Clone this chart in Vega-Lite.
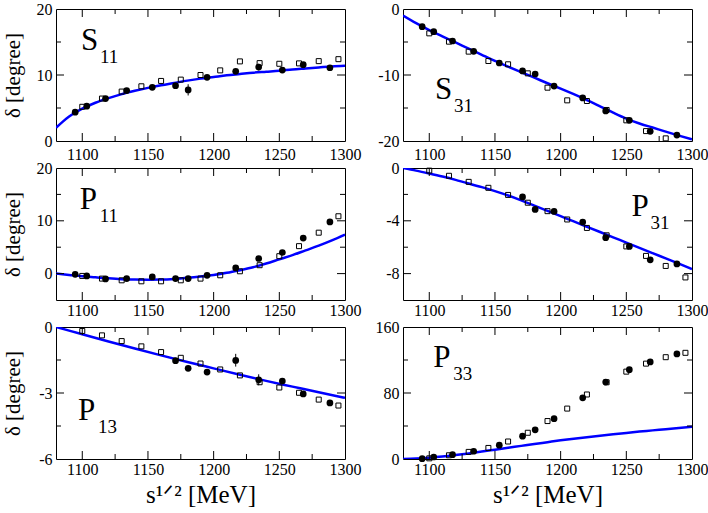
{
  "$schema": "https://vega.github.io/schema/vega-lite/v6.json",
  "padding": {"left": 1, "top": 0, "right": 0, "bottom": 0},
  "bounds": "flush",
  "columns": 2,
  "spacing": {"row": 27, "column": 58},
  "config": {
    "font": "Liberation Serif",
    "view": {"stroke": "black", "strokeWidth": 1},
    "axis": {"domain": false, "ticks": false, "grid": false, "labelFont": "Liberation Serif", "titleFont": "Liberation Serif", "labelFontSize": 16, "titleFontSize": 21, "labelColor": "black", "titleColor": "black", "titleFontWeight": "normal"},
    "tick": {"thickness": 1, "color": "black", "opacity": 1}
  },
  "datasets": {
    "one": [{"k": 1}],
    "xt": [{"v": 1100, "major": 1}, {"v": 1150, "major": 1}, {"v": 1200, "major": 1}, {"v": 1250, "major": 1}, {"v": 1125, "major": 0}, {"v": 1175, "major": 0}, {"v": 1225, "major": 0}, {"v": 1275, "major": 0}],
    "yt": [
      {"wave": "S11", "v": 10, "major": 1}, {"wave": "S11", "v": 5, "major": 0}, {"wave": "S11", "v": 15, "major": 0},
      {"wave": "S31", "v": -10, "major": 1}, {"wave": "S31", "v": -5, "major": 0}, {"wave": "S31", "v": -15, "major": 0},
      {"wave": "P11", "v": 0, "major": 1}, {"wave": "P11", "v": 10, "major": 1}, {"wave": "P11", "v": 5, "major": 0}, {"wave": "P11", "v": 15, "major": 0},
      {"wave": "P31", "v": -4, "major": 1}, {"wave": "P31", "v": -8, "major": 1}, {"wave": "P31", "v": -2, "major": 0}, {"wave": "P31", "v": -6, "major": 0},
      {"wave": "P13", "v": -3, "major": 1}, {"wave": "P13", "v": -1.5, "major": 0}, {"wave": "P13", "v": -4.5, "major": 0},
      {"wave": "P33", "v": 80, "major": 1}, {"wave": "P33", "v": 40, "major": 0}, {"wave": "P33", "v": 120, "major": 0}
    ],
    "pts": [
      {"wave":"S11","kind":"c","s":1094.6,"delta":4.37},{"wave":"S11","kind":"c","s":1103.4,"delta":5.28},{"wave":"S11","kind":"c","s":1117.7,"delta":6.43},{"wave":"S11","kind":"c","s":1133.8,"delta":7.64},{"wave":"S11","kind":"c","s":1153.3,"delta":8.14},{"wave":"S11","kind":"c","s":1171,"delta":8.39},{"wave":"S11","kind":"c","s":1180.6,"delta":7.74},{"wave":"S11","kind":"c","s":1195,"delta":9.65},{"wave":"S11","kind":"c","s":1216.8,"delta":10.55},{"wave":"S11","kind":"c","s":1234.3,"delta":11.2},{"wave":"S11","kind":"c","s":1252.3,"delta":10.75},{"wave":"S11","kind":"c","s":1268.2,"delta":11.56},{"wave":"S11","kind":"c","s":1288.5,"delta":11.1},
      {"wave":"S11","kind":"q","s":1100,"delta":5.18},{"wave":"S11","kind":"q","s":1115,"delta":6.43},{"wave":"S11","kind":"q","s":1130,"delta":7.49},{"wave":"S11","kind":"q","s":1145,"delta":8.29},{"wave":"S11","kind":"q","s":1160,"delta":9.1},{"wave":"S11","kind":"q","s":1175,"delta":9.3},{"wave":"S11","kind":"q","s":1190,"delta":10.0},{"wave":"S11","kind":"q","s":1205,"delta":10.7},{"wave":"S11","kind":"q","s":1220,"delta":12.06},{"wave":"S11","kind":"q","s":1235,"delta":11.8},{"wave":"S11","kind":"q","s":1250,"delta":11.7},{"wave":"S11","kind":"q","s":1265,"delta":11.76},{"wave":"S11","kind":"q","s":1280,"delta":12.1},{"wave":"S11","kind":"q","s":1295,"delta":12.4},
      {"wave":"S31","kind":"c","s":1094.6,"delta":-2.68},{"wave":"S31","kind":"c","s":1103.4,"delta":-3.43},{"wave":"S31","kind":"c","s":1117.7,"delta":-4.85},{"wave":"S31","kind":"c","s":1133.8,"delta":-6.41},{"wave":"S31","kind":"c","s":1153.3,"delta":-8.18},{"wave":"S31","kind":"c","s":1171,"delta":-9.39},{"wave":"S31","kind":"c","s":1180.6,"delta":-9.85},{"wave":"S31","kind":"c","s":1195,"delta":-11.67},{"wave":"S31","kind":"c","s":1216.8,"delta":-13.48},{"wave":"S31","kind":"c","s":1234.3,"delta":-15.45},{"wave":"S31","kind":"c","s":1252.3,"delta":-16.87},{"wave":"S31","kind":"c","s":1268.2,"delta":-18.54},{"wave":"S31","kind":"c","s":1288.5,"delta":-19.1},
      {"wave":"S31","kind":"q","s":1100,"delta":-3.69},{"wave":"S31","kind":"q","s":1115,"delta":-4.95},{"wave":"S31","kind":"q","s":1130,"delta":-6.46},{"wave":"S31","kind":"q","s":1145,"delta":-7.88},{"wave":"S31","kind":"q","s":1160,"delta":-8.38},{"wave":"S31","kind":"q","s":1175,"delta":-9.75},{"wave":"S31","kind":"q","s":1190,"delta":-11.92},{"wave":"S31","kind":"q","s":1205,"delta":-13.84},{"wave":"S31","kind":"q","s":1220,"delta":-13.94},{"wave":"S31","kind":"q","s":1235,"delta":-15.3},{"wave":"S31","kind":"q","s":1250,"delta":-16.87},{"wave":"S31","kind":"q","s":1265,"delta":-18.5},{"wave":"S31","kind":"q","s":1280,"delta":-19.6},
      {"wave":"P11","kind":"c","s":1094.6,"delta":-0.13},{"wave":"P11","kind":"c","s":1103.4,"delta":-0.44},{"wave":"P11","kind":"c","s":1117.7,"delta":-1.0},{"wave":"P11","kind":"c","s":1133.8,"delta":-0.95},{"wave":"P11","kind":"c","s":1153.3,"delta":-0.63},{"wave":"P11","kind":"c","s":1171,"delta":-0.95},{"wave":"P11","kind":"c","s":1180.6,"delta":-0.95},{"wave":"P11","kind":"c","s":1195,"delta":-0.32},{"wave":"P11","kind":"c","s":1216.8,"delta":1.08},{"wave":"P11","kind":"c","s":1234.3,"delta":2.86},{"wave":"P11","kind":"c","s":1252.3,"delta":4.0},{"wave":"P11","kind":"c","s":1268.2,"delta":6.73},{"wave":"P11","kind":"c","s":1288.5,"delta":9.78},
      {"wave":"P11","kind":"q","s":1100,"delta":-0.44},{"wave":"P11","kind":"q","s":1115,"delta":-0.95},{"wave":"P11","kind":"q","s":1130,"delta":-1.27},{"wave":"P11","kind":"q","s":1145,"delta":-1.46},{"wave":"P11","kind":"q","s":1160,"delta":-1.46},{"wave":"P11","kind":"q","s":1175,"delta":-1.27},{"wave":"P11","kind":"q","s":1190,"delta":-0.95},{"wave":"P11","kind":"q","s":1205,"delta":-0.32},{"wave":"P11","kind":"q","s":1220,"delta":0.44},{"wave":"P11","kind":"q","s":1235,"delta":1.59},{"wave":"P11","kind":"q","s":1250,"delta":3.3},{"wave":"P11","kind":"q","s":1265,"delta":5.2},{"wave":"P11","kind":"q","s":1280,"delta":7.75},{"wave":"P11","kind":"q","s":1295,"delta":10.86},
      {"wave":"P31","kind":"c","s":1171,"delta":-2.19},{"wave":"P31","kind":"c","s":1180.6,"delta":-3.14},{"wave":"P31","kind":"c","s":1195,"delta":-3.29},{"wave":"P31","kind":"c","s":1216.8,"delta":-4.1},{"wave":"P31","kind":"c","s":1234.3,"delta":-5.28},{"wave":"P31","kind":"c","s":1252.3,"delta":-5.94},{"wave":"P31","kind":"c","s":1268.2,"delta":-6.96},{"wave":"P31","kind":"c","s":1288.5,"delta":-7.27},
      {"wave":"P31","kind":"q","s":1100,"delta":-0.2},{"wave":"P31","kind":"q","s":1115,"delta":-0.59},{"wave":"P31","kind":"q","s":1130,"delta":-1.05},{"wave":"P31","kind":"q","s":1145,"delta":-1.5},{"wave":"P31","kind":"q","s":1160,"delta":-2.04},{"wave":"P31","kind":"q","s":1175,"delta":-2.63},{"wave":"P31","kind":"q","s":1190,"delta":-3.27},{"wave":"P31","kind":"q","s":1205,"delta":-3.9},{"wave":"P31","kind":"q","s":1220,"delta":-4.54},{"wave":"P31","kind":"q","s":1235,"delta":-5.1},{"wave":"P31","kind":"q","s":1250,"delta":-5.94},{"wave":"P31","kind":"q","s":1265,"delta":-6.66},{"wave":"P31","kind":"q","s":1280,"delta":-7.42},{"wave":"P31","kind":"q","s":1295,"delta":-8.29},
      {"wave":"P13","kind":"c","s":1171,"delta":-1.53},{"wave":"P13","kind":"c","s":1180.6,"delta":-1.88},{"wave":"P13","kind":"c","s":1195,"delta":-2.05},{"wave":"P13","kind":"c","s":1216.8,"delta":-1.52},{"wave":"P13","kind":"c","s":1234.3,"delta":-2.4},{"wave":"P13","kind":"c","s":1252.3,"delta":-2.46},{"wave":"P13","kind":"c","s":1268.2,"delta":-3.04},{"wave":"P13","kind":"c","s":1288.5,"delta":-3.45},
      {"wave":"P13","kind":"q","s":1100,"delta":-0.18},{"wave":"P13","kind":"q","s":1115,"delta":-0.38},{"wave":"P13","kind":"q","s":1130,"delta":-0.64},{"wave":"P13","kind":"q","s":1145,"delta":-0.88},{"wave":"P13","kind":"q","s":1160,"delta":-1.14},{"wave":"P13","kind":"q","s":1175,"delta":-1.4},{"wave":"P13","kind":"q","s":1190,"delta":-1.66},{"wave":"P13","kind":"q","s":1205,"delta":-1.93},{"wave":"P13","kind":"q","s":1220,"delta":-2.2},{"wave":"P13","kind":"q","s":1235,"delta":-2.51},{"wave":"P13","kind":"q","s":1250,"delta":-2.75},{"wave":"P13","kind":"q","s":1265,"delta":-2.99},{"wave":"P13","kind":"q","s":1280,"delta":-3.3},{"wave":"P13","kind":"q","s":1295,"delta":-3.57},
      {"wave":"P33","kind":"c","s":1094.6,"delta":0.4},{"wave":"P33","kind":"c","s":1103.4,"delta":2.4},{"wave":"P33","kind":"c","s":1117.7,"delta":5.3},{"wave":"P33","kind":"c","s":1133.8,"delta":9.4},{"wave":"P33","kind":"c","s":1153.3,"delta":16.7},{"wave":"P33","kind":"c","s":1171,"delta":27.7},{"wave":"P33","kind":"c","s":1180.6,"delta":35.4},{"wave":"P33","kind":"c","s":1195,"delta":48.9},{"wave":"P33","kind":"c","s":1216.8,"delta":74.2},{"wave":"P33","kind":"c","s":1234.3,"delta":93.2},{"wave":"P33","kind":"c","s":1252.3,"delta":108.3},{"wave":"P33","kind":"c","s":1268.2,"delta":117.7},{"wave":"P33","kind":"c","s":1288.5,"delta":127.4},
      {"wave":"P33","kind":"q","s":1100,"delta":0.8},{"wave":"P33","kind":"q","s":1115,"delta":4.5},{"wave":"P33","kind":"q","s":1130,"delta":8.6},{"wave":"P33","kind":"q","s":1145,"delta":13.4},{"wave":"P33","kind":"q","s":1160,"delta":21.2},{"wave":"P33","kind":"q","s":1175,"delta":31.8},{"wave":"P33","kind":"q","s":1190,"delta":46.0},{"wave":"P33","kind":"q","s":1205,"delta":61.1},{"wave":"P33","kind":"q","s":1220,"delta":78.2},{"wave":"P33","kind":"q","s":1235,"delta":93.0},{"wave":"P33","kind":"q","s":1250,"delta":105.9},{"wave":"P33","kind":"q","s":1265,"delta":115.6},{"wave":"P33","kind":"q","s":1280,"delta":123.4},{"wave":"P33","kind":"q","s":1295,"delta":128.7}
    ],
    "err": [
      {"wave":"S11","s":1180.6,"lo":6.9,"hi":8.6},{"wave":"S11","s":1234.3,"lo":10.7,"hi":11.7},
      {"wave":"P13","s":1216.8,"lo":-1.8,"hi":-1.22},{"wave":"P13","s":1234.3,"lo":-2.65,"hi":-2.15},{"wave":"P13","s":1252.3,"lo":-2.56,"hi":-2.36},{"wave":"P13","s":1268.2,"lo":-3.13,"hi":-2.95},{"wave":"P13","s":1288.5,"lo":-3.58,"hi":-3.35}
    ],
    "line": [
      {"wave":"S11","s":1080,"delta":2.0},{"wave":"S11","s":1085,"delta":2.9},{"wave":"S11","s":1090,"delta":3.7},{"wave":"S11","s":1095,"delta":4.35},{"wave":"S11","s":1100,"delta":4.9},{"wave":"S11","s":1110,"delta":5.8},{"wave":"S11","s":1120,"delta":6.5},{"wave":"S11","s":1130,"delta":7.1},{"wave":"S11","s":1140,"delta":7.6},{"wave":"S11","s":1150,"delta":8.05},{"wave":"S11","s":1160,"delta":8.45},{"wave":"S11","s":1170,"delta":8.8},{"wave":"S11","s":1180,"delta":9.15},{"wave":"S11","s":1190,"delta":9.45},{"wave":"S11","s":1200,"delta":9.7},{"wave":"S11","s":1210,"delta":9.95},{"wave":"S11","s":1220,"delta":10.15},{"wave":"S11","s":1230,"delta":10.35},{"wave":"S11","s":1240,"delta":10.5},{"wave":"S11","s":1250,"delta":10.65},{"wave":"S11","s":1260,"delta":10.85},{"wave":"S11","s":1270,"delta":11.0},{"wave":"S11","s":1280,"delta":11.15},{"wave":"S11","s":1290,"delta":11.3},{"wave":"S11","s":1300,"delta":11.4},
      {"wave":"S31","s":1080,"delta":-1.0},{"wave":"S31","s":1090,"delta":-2.15},{"wave":"S31","s":1100,"delta":-3.2},{"wave":"S31","s":1110,"delta":-4.13},{"wave":"S31","s":1120,"delta":-5.07},{"wave":"S31","s":1130,"delta":-6.0},{"wave":"S31","s":1140,"delta":-6.94},{"wave":"S31","s":1150,"delta":-7.87},{"wave":"S31","s":1160,"delta":-8.74},{"wave":"S31","s":1170,"delta":-9.58},{"wave":"S31","s":1180,"delta":-10.41},{"wave":"S31","s":1190,"delta":-11.25},{"wave":"S31","s":1200,"delta":-12.07},{"wave":"S31","s":1210,"delta":-12.91},{"wave":"S31","s":1220,"delta":-13.79},{"wave":"S31","s":1230,"delta":-14.74},{"wave":"S31","s":1240,"delta":-15.7},{"wave":"S31","s":1250,"delta":-16.6},{"wave":"S31","s":1260,"delta":-17.35},{"wave":"S31","s":1270,"delta":-17.96},{"wave":"S31","s":1280,"delta":-18.58},{"wave":"S31","s":1290,"delta":-19.18},{"wave":"S31","s":1300,"delta":-19.75},
      {"wave":"P11","s":1080,"delta":0.0},{"wave":"P11","s":1090,"delta":-0.25},{"wave":"P11","s":1100,"delta":-0.5},{"wave":"P11","s":1110,"delta":-0.7},{"wave":"P11","s":1120,"delta":-0.9},{"wave":"P11","s":1130,"delta":-1.05},{"wave":"P11","s":1140,"delta":-1.12},{"wave":"P11","s":1150,"delta":-1.15},{"wave":"P11","s":1160,"delta":-1.12},{"wave":"P11","s":1170,"delta":-1.0},{"wave":"P11","s":1180,"delta":-0.8},{"wave":"P11","s":1190,"delta":-0.55},{"wave":"P11","s":1200,"delta":-0.25},{"wave":"P11","s":1210,"delta":0.15},{"wave":"P11","s":1220,"delta":0.65},{"wave":"P11","s":1230,"delta":1.2},{"wave":"P11","s":1240,"delta":1.9},{"wave":"P11","s":1250,"delta":2.7},{"wave":"P11","s":1260,"delta":3.5},{"wave":"P11","s":1270,"delta":4.4},{"wave":"P11","s":1280,"delta":5.3},{"wave":"P11","s":1290,"delta":6.3},{"wave":"P11","s":1300,"delta":7.4},
      {"wave":"P31","s":1080,"delta":0.0},{"wave":"P31","s":1090,"delta":-0.2},{"wave":"P31","s":1100,"delta":-0.42},{"wave":"P31","s":1110,"delta":-0.65},{"wave":"P31","s":1120,"delta":-0.9},{"wave":"P31","s":1130,"delta":-1.17},{"wave":"P31","s":1140,"delta":-1.45},{"wave":"P31","s":1150,"delta":-1.75},{"wave":"P31","s":1160,"delta":-2.08},{"wave":"P31","s":1170,"delta":-2.45},{"wave":"P31","s":1180,"delta":-2.85},{"wave":"P31","s":1190,"delta":-3.25},{"wave":"P31","s":1200,"delta":-3.65},{"wave":"P31","s":1210,"delta":-4.05},{"wave":"P31","s":1220,"delta":-4.45},{"wave":"P31","s":1230,"delta":-4.85},{"wave":"P31","s":1240,"delta":-5.25},{"wave":"P31","s":1250,"delta":-5.65},{"wave":"P31","s":1260,"delta":-6.05},{"wave":"P31","s":1270,"delta":-6.45},{"wave":"P31","s":1280,"delta":-6.85},{"wave":"P31","s":1290,"delta":-7.25},{"wave":"P31","s":1300,"delta":-7.65},
      {"wave":"P13","s":1080,"delta":0.0},{"wave":"P13","s":1100,"delta":-0.33},{"wave":"P13","s":1120,"delta":-0.66},{"wave":"P13","s":1140,"delta":-0.98},{"wave":"P13","s":1160,"delta":-1.29},{"wave":"P13","s":1180,"delta":-1.59},{"wave":"P13","s":1200,"delta":-1.88},{"wave":"P13","s":1220,"delta":-2.17},{"wave":"P13","s":1240,"delta":-2.45},{"wave":"P13","s":1260,"delta":-2.71},{"wave":"P13","s":1280,"delta":-2.97},{"wave":"P13","s":1300,"delta":-3.22},
      {"wave":"P33","s":1080,"delta":0.0},{"wave":"P33","s":1090,"delta":0.6},{"wave":"P33","s":1100,"delta":1.6},{"wave":"P33","s":1110,"delta":3.0},{"wave":"P33","s":1120,"delta":4.8},{"wave":"P33","s":1130,"delta":6.8},{"wave":"P33","s":1140,"delta":9.0},{"wave":"P33","s":1150,"delta":11.3},{"wave":"P33","s":1160,"delta":13.6},{"wave":"P33","s":1170,"delta":15.9},{"wave":"P33","s":1180,"delta":18.2},{"wave":"P33","s":1190,"delta":20.4},{"wave":"P33","s":1200,"delta":22.6},{"wave":"P33","s":1210,"delta":24.6},{"wave":"P33","s":1220,"delta":26.5},{"wave":"P33","s":1230,"delta":28.3},{"wave":"P33","s":1240,"delta":30.0},{"wave":"P33","s":1250,"delta":31.6},{"wave":"P33","s":1260,"delta":33.2},{"wave":"P33","s":1270,"delta":34.7},{"wave":"P33","s":1280,"delta":36.2},{"wave":"P33","s":1290,"delta":37.7},{"wave":"P33","s":1300,"delta":39.2}
    ]
  },
  "concat": [
    {
      "width": 289, "height": 132,
      "layer": [
        {"data": {"name": "line"}, "transform": [{"filter": "datum.wave === 'S11'"}],
         "mark": {"type": "line", "color": "#0000ff", "strokeWidth": 2.5, "interpolate": "monotone", "clip": true},
         "encoding": {
           "x": {"field": "s", "type": "quantitative", "scale": {"domain": [1080, 1300], "nice": false, "zero": false}, "axis": {"orient": "bottom", "values": [1100, 1150, 1200, 1250, 1300], "labelFlush": false, "labelOverlap": false, "labelPadding": 5, "labelExpr": "'' + datum.value", "title": null}},
           "y": {"field": "delta", "type": "quantitative", "scale": {"domain": [0, 20], "nice": false, "zero": false}, "axis": {"orient": "left", "values": [0, 10, 20], "labelOverlap": false, "labelPadding": 4, "labelExpr": "'' + datum.value", "title": "δ [degree]", "titleX": -33, "titleY": 66, "titleAngle": 270, "titleBaseline": "bottom", "titleAlign": "center"}}
         }},
        {"data": {"name": "pts"}, "transform": [{"filter": "datum.wave === 'S11' && datum.kind === 'q'"}],
         "mark": {"type": "point", "shape": "square", "filled": false, "stroke": "black", "strokeWidth": 1, "size": 25, "opacity": 1},
         "encoding": {"x": {"field": "s", "type": "quantitative"}, "y": {"field": "delta", "type": "quantitative"}}},
        {"data": {"name": "err"}, "transform": [{"filter": "datum.wave === 'S11'"}],
         "mark": {"type": "rule", "color": "black", "strokeWidth": 1},
         "encoding": {"x": {"field": "s", "type": "quantitative"}, "y": {"field": "lo", "type": "quantitative"}, "y2": {"field": "hi"}}},
        {"data": {"name": "pts"}, "transform": [{"filter": "datum.wave === 'S11' && datum.kind === 'c'"}],
         "mark": {"type": "point", "shape": "circle", "filled": true, "color": "black", "size": 45, "opacity": 1},
         "encoding": {"x": {"field": "s", "type": "quantitative"}, "y": {"field": "delta", "type": "quantitative"}}},
        {"data": {"name": "one"},
         "mark": {"type": "text", "text": "S", "fontSize": 31, "align": "left", "baseline": "alphabetic", "font": "Liberation Serif", "color": "black"},
         "encoding": {"x": {"datum": 1099, "type": "quantitative"}, "y": {"datum": 13.8, "type": "quantitative"}}},
        {"data": {"name": "one"},
         "mark": {"type": "text", "text": "11", "fontSize": 19, "align": "left", "baseline": "alphabetic", "dx": 19, "dy": 13, "font": "Liberation Serif", "color": "black"},
         "encoding": {"x": {"datum": 1099, "type": "quantitative"}, "y": {"datum": 13.8, "type": "quantitative"}}},
        {"data": {"name": "xt"}, "mark": {"type": "tick", "orient": "vertical", "clip": true},
         "encoding": {"x": {"field": "v", "type": "quantitative"}, "y": {"datum": 0, "type": "quantitative"}, "size": {"condition": {"test": "datum.major === 1", "value": 16}, "value": 10}}},
        {"data": {"name": "xt"}, "mark": {"type": "tick", "orient": "vertical", "clip": true},
         "encoding": {"x": {"field": "v", "type": "quantitative"}, "y": {"datum": 20, "type": "quantitative"}, "size": {"condition": {"test": "datum.major === 1", "value": 16}, "value": 10}}},
        {"data": {"name": "yt"}, "transform": [{"filter": "datum.wave === 'S11'"}], "mark": {"type": "tick", "orient": "horizontal", "clip": true},
         "encoding": {"y": {"field": "v", "type": "quantitative"}, "x": {"datum": 1080, "type": "quantitative"}, "size": {"condition": {"test": "datum.major === 1", "value": 16}, "value": 10}}},
        {"data": {"name": "yt"}, "transform": [{"filter": "datum.wave === 'S11'"}], "mark": {"type": "tick", "orient": "horizontal", "clip": true},
         "encoding": {"y": {"field": "v", "type": "quantitative"}, "x": {"datum": 1300, "type": "quantitative"}, "size": {"condition": {"test": "datum.major === 1", "value": 16}, "value": 10}}}
      ]
    },
    {
      "width": 289, "height": 132,
      "layer": [
        {"data": {"name": "line"}, "transform": [{"filter": "datum.wave === 'S31'"}],
         "mark": {"type": "line", "color": "#0000ff", "strokeWidth": 2.5, "interpolate": "monotone", "clip": true},
         "encoding": {
           "x": {"field": "s", "type": "quantitative", "scale": {"domain": [1080, 1300], "nice": false, "zero": false}, "axis": {"orient": "bottom", "values": [1100, 1150, 1200, 1250, 1300], "labelFlush": false, "labelOverlap": false, "labelPadding": 5, "labelExpr": "'' + datum.value", "title": null}},
           "y": {"field": "delta", "type": "quantitative", "scale": {"domain": [-20, 0], "nice": false, "zero": false}, "axis": {"orient": "left", "values": [0, -10, -20], "labelOverlap": false, "labelPadding": 4, "labelExpr": "'' + datum.value", "title": null}}
         }},
        {"data": {"name": "pts"}, "transform": [{"filter": "datum.wave === 'S31' && datum.kind === 'q'"}],
         "mark": {"type": "point", "shape": "square", "filled": false, "stroke": "black", "strokeWidth": 1, "size": 25, "opacity": 1},
         "encoding": {"x": {"field": "s", "type": "quantitative"}, "y": {"field": "delta", "type": "quantitative"}}},
        {"data": {"name": "pts"}, "transform": [{"filter": "datum.wave === 'S31' && datum.kind === 'c'"}],
         "mark": {"type": "point", "shape": "circle", "filled": true, "color": "black", "size": 45, "opacity": 1},
         "encoding": {"x": {"field": "s", "type": "quantitative"}, "y": {"field": "delta", "type": "quantitative"}}},
        {"data": {"name": "one"},
         "mark": {"type": "text", "text": "S", "fontSize": 31, "align": "left", "baseline": "alphabetic", "font": "Liberation Serif", "color": "black"},
         "encoding": {"x": {"datum": 1104.4, "type": "quantitative"}, "y": {"datum": -13.6, "type": "quantitative"}}},
        {"data": {"name": "one"},
         "mark": {"type": "text", "text": "31", "fontSize": 19, "align": "left", "baseline": "alphabetic", "dx": 19, "dy": 13, "font": "Liberation Serif", "color": "black"},
         "encoding": {"x": {"datum": 1104.4, "type": "quantitative"}, "y": {"datum": -13.6, "type": "quantitative"}}},
        {"data": {"name": "xt"}, "mark": {"type": "tick", "orient": "vertical", "clip": true},
         "encoding": {"x": {"field": "v", "type": "quantitative"}, "y": {"datum": -20, "type": "quantitative"}, "size": {"condition": {"test": "datum.major === 1", "value": 16}, "value": 10}}},
        {"data": {"name": "xt"}, "mark": {"type": "tick", "orient": "vertical", "clip": true},
         "encoding": {"x": {"field": "v", "type": "quantitative"}, "y": {"datum": 0, "type": "quantitative"}, "size": {"condition": {"test": "datum.major === 1", "value": 16}, "value": 10}}},
        {"data": {"name": "yt"}, "transform": [{"filter": "datum.wave === 'S31'"}], "mark": {"type": "tick", "orient": "horizontal", "clip": true},
         "encoding": {"y": {"field": "v", "type": "quantitative"}, "x": {"datum": 1080, "type": "quantitative"}, "size": {"condition": {"test": "datum.major === 1", "value": 16}, "value": 10}}},
        {"data": {"name": "yt"}, "transform": [{"filter": "datum.wave === 'S31'"}], "mark": {"type": "tick", "orient": "horizontal", "clip": true},
         "encoding": {"y": {"field": "v", "type": "quantitative"}, "x": {"datum": 1300, "type": "quantitative"}, "size": {"condition": {"test": "datum.major === 1", "value": 16}, "value": 10}}}
      ]
    },
    {
      "width": 289, "height": 132,
      "layer": [
        {"data": {"name": "line"}, "transform": [{"filter": "datum.wave === 'P11'"}],
         "mark": {"type": "line", "color": "#0000ff", "strokeWidth": 2.5, "interpolate": "monotone", "clip": true},
         "encoding": {
           "x": {"field": "s", "type": "quantitative", "scale": {"domain": [1080, 1300], "nice": false, "zero": false}, "axis": {"orient": "bottom", "values": [1100, 1150, 1200, 1250, 1300], "labelFlush": false, "labelOverlap": false, "labelPadding": 2, "labelExpr": "'' + datum.value", "title": null}},
           "y": {"field": "delta", "type": "quantitative", "scale": {"domain": [-5, 20], "nice": false, "zero": false}, "axis": {"orient": "left", "values": [0, 10, 20], "labelOverlap": false, "labelPadding": 4, "labelExpr": "'' + datum.value", "title": "δ [degree]", "titleX": -33, "titleY": 66, "titleAngle": 270, "titleBaseline": "bottom", "titleAlign": "center"}}
         }},
        {"data": {"name": "pts"}, "transform": [{"filter": "datum.wave === 'P11' && datum.kind === 'q'"}],
         "mark": {"type": "point", "shape": "square", "filled": false, "stroke": "black", "strokeWidth": 1, "size": 25, "opacity": 1},
         "encoding": {"x": {"field": "s", "type": "quantitative"}, "y": {"field": "delta", "type": "quantitative"}}},
        {"data": {"name": "pts"}, "transform": [{"filter": "datum.wave === 'P11' && datum.kind === 'c'"}],
         "mark": {"type": "point", "shape": "circle", "filled": true, "color": "black", "size": 45, "opacity": 1},
         "encoding": {"x": {"field": "s", "type": "quantitative"}, "y": {"field": "delta", "type": "quantitative"}}},
        {"data": {"name": "one"},
         "mark": {"type": "text", "text": "P", "fontSize": 31, "align": "left", "baseline": "alphabetic", "font": "Liberation Serif", "color": "black"},
         "encoding": {"x": {"datum": 1098, "type": "quantitative"}, "y": {"datum": 12.2, "type": "quantitative"}}},
        {"data": {"name": "one"},
         "mark": {"type": "text", "text": "11", "fontSize": 19, "align": "left", "baseline": "alphabetic", "dx": 20, "dy": 13, "font": "Liberation Serif", "color": "black"},
         "encoding": {"x": {"datum": 1098, "type": "quantitative"}, "y": {"datum": 12.2, "type": "quantitative"}}},
        {"data": {"name": "xt"}, "mark": {"type": "tick", "orient": "vertical", "clip": true},
         "encoding": {"x": {"field": "v", "type": "quantitative"}, "y": {"datum": -5, "type": "quantitative"}, "size": {"condition": {"test": "datum.major === 1", "value": 16}, "value": 10}}},
        {"data": {"name": "xt"}, "mark": {"type": "tick", "orient": "vertical", "clip": true},
         "encoding": {"x": {"field": "v", "type": "quantitative"}, "y": {"datum": 20, "type": "quantitative"}, "size": {"condition": {"test": "datum.major === 1", "value": 16}, "value": 10}}},
        {"data": {"name": "yt"}, "transform": [{"filter": "datum.wave === 'P11'"}], "mark": {"type": "tick", "orient": "horizontal", "clip": true},
         "encoding": {"y": {"field": "v", "type": "quantitative"}, "x": {"datum": 1080, "type": "quantitative"}, "size": {"condition": {"test": "datum.major === 1", "value": 16}, "value": 10}}},
        {"data": {"name": "yt"}, "transform": [{"filter": "datum.wave === 'P11'"}], "mark": {"type": "tick", "orient": "horizontal", "clip": true},
         "encoding": {"y": {"field": "v", "type": "quantitative"}, "x": {"datum": 1300, "type": "quantitative"}, "size": {"condition": {"test": "datum.major === 1", "value": 16}, "value": 10}}}
      ]
    },
    {
      "width": 289, "height": 132,
      "layer": [
        {"data": {"name": "line"}, "transform": [{"filter": "datum.wave === 'P31'"}],
         "mark": {"type": "line", "color": "#0000ff", "strokeWidth": 2.5, "interpolate": "monotone", "clip": true},
         "encoding": {
           "x": {"field": "s", "type": "quantitative", "scale": {"domain": [1080, 1300], "nice": false, "zero": false}, "axis": {"orient": "bottom", "values": [1100, 1150, 1200, 1250, 1300], "labelFlush": false, "labelOverlap": false, "labelPadding": 2, "labelExpr": "'' + datum.value", "title": null}},
           "y": {"field": "delta", "type": "quantitative", "scale": {"domain": [-10, 0], "nice": false, "zero": false}, "axis": {"orient": "left", "values": [0, -4, -8], "labelOverlap": false, "labelPadding": 4, "labelExpr": "'' + datum.value", "title": null}}
         }},
        {"data": {"name": "pts"}, "transform": [{"filter": "datum.wave === 'P31' && datum.kind === 'q'"}],
         "mark": {"type": "point", "shape": "square", "filled": false, "stroke": "black", "strokeWidth": 1, "size": 25, "opacity": 1},
         "encoding": {"x": {"field": "s", "type": "quantitative"}, "y": {"field": "delta", "type": "quantitative"}}},
        {"data": {"name": "pts"}, "transform": [{"filter": "datum.wave === 'P31' && datum.kind === 'c'"}],
         "mark": {"type": "point", "shape": "circle", "filled": true, "color": "black", "size": 45, "opacity": 1},
         "encoding": {"x": {"field": "s", "type": "quantitative"}, "y": {"field": "delta", "type": "quantitative"}}},
        {"data": {"name": "one"},
         "mark": {"type": "text", "text": "P", "fontSize": 31, "align": "left", "baseline": "alphabetic", "font": "Liberation Serif", "color": "black"},
         "encoding": {"x": {"datum": 1254, "type": "quantitative"}, "y": {"datum": -3.6, "type": "quantitative"}}},
        {"data": {"name": "one"},
         "mark": {"type": "text", "text": "31", "fontSize": 19, "align": "left", "baseline": "alphabetic", "dx": 19, "dy": 13, "font": "Liberation Serif", "color": "black"},
         "encoding": {"x": {"datum": 1254, "type": "quantitative"}, "y": {"datum": -3.6, "type": "quantitative"}}},
        {"data": {"name": "xt"}, "mark": {"type": "tick", "orient": "vertical", "clip": true},
         "encoding": {"x": {"field": "v", "type": "quantitative"}, "y": {"datum": -10, "type": "quantitative"}, "size": {"condition": {"test": "datum.major === 1", "value": 16}, "value": 10}}},
        {"data": {"name": "xt"}, "mark": {"type": "tick", "orient": "vertical", "clip": true},
         "encoding": {"x": {"field": "v", "type": "quantitative"}, "y": {"datum": 0, "type": "quantitative"}, "size": {"condition": {"test": "datum.major === 1", "value": 16}, "value": 10}}},
        {"data": {"name": "yt"}, "transform": [{"filter": "datum.wave === 'P31'"}], "mark": {"type": "tick", "orient": "horizontal", "clip": true},
         "encoding": {"y": {"field": "v", "type": "quantitative"}, "x": {"datum": 1080, "type": "quantitative"}, "size": {"condition": {"test": "datum.major === 1", "value": 16}, "value": 10}}},
        {"data": {"name": "yt"}, "transform": [{"filter": "datum.wave === 'P31'"}], "mark": {"type": "tick", "orient": "horizontal", "clip": true},
         "encoding": {"y": {"field": "v", "type": "quantitative"}, "x": {"datum": 1300, "type": "quantitative"}, "size": {"condition": {"test": "datum.major === 1", "value": 16}, "value": 10}}}
      ]
    },
    {
      "width": 289, "height": 132,
      "layer": [
        {"data": {"name": "line"}, "transform": [{"filter": "datum.wave === 'P13'"}],
         "mark": {"type": "line", "color": "#0000ff", "strokeWidth": 2.5, "interpolate": "monotone", "clip": true},
         "encoding": {
           "x": {"field": "s", "type": "quantitative", "scale": {"domain": [1080, 1300], "nice": false, "zero": false}, "axis": {"orient": "bottom", "values": [1100, 1150, 1200, 1250, 1300], "labelFlush": false, "labelOverlap": false, "labelPadding": 2, "labelExpr": "'' + datum.value", "title": "s¹ᐟ² [MeV]", "titleFontSize": 25, "titlePadding": 5}},
           "y": {"field": "delta", "type": "quantitative", "scale": {"domain": [-6, 0], "nice": false, "zero": false}, "axis": {"orient": "left", "values": [0, -3, -6], "labelOverlap": false, "labelPadding": 4, "labelExpr": "'' + datum.value", "title": "δ [degree]", "titleX": -33, "titleY": 66, "titleAngle": 270, "titleBaseline": "bottom", "titleAlign": "center"}}
         }},
        {"data": {"name": "pts"}, "transform": [{"filter": "datum.wave === 'P13' && datum.kind === 'q'"}],
         "mark": {"type": "point", "shape": "square", "filled": false, "stroke": "black", "strokeWidth": 1, "size": 25, "opacity": 1},
         "encoding": {"x": {"field": "s", "type": "quantitative"}, "y": {"field": "delta", "type": "quantitative"}}},
        {"data": {"name": "err"}, "transform": [{"filter": "datum.wave === 'P13'"}],
         "mark": {"type": "rule", "color": "black", "strokeWidth": 1},
         "encoding": {"x": {"field": "s", "type": "quantitative"}, "y": {"field": "lo", "type": "quantitative"}, "y2": {"field": "hi"}}},
        {"data": {"name": "pts"}, "transform": [{"filter": "datum.wave === 'P13' && datum.kind === 'c'"}],
         "mark": {"type": "point", "shape": "circle", "filled": true, "color": "black", "size": 45, "opacity": 1},
         "encoding": {"x": {"field": "s", "type": "quantitative"}, "y": {"field": "delta", "type": "quantitative"}}},
        {"data": {"name": "one"},
         "mark": {"type": "text", "text": "P", "fontSize": 31, "align": "left", "baseline": "alphabetic", "font": "Liberation Serif", "color": "black"},
         "encoding": {"x": {"datum": 1096.7, "type": "quantitative"}, "y": {"datum": -4.23, "type": "quantitative"}}},
        {"data": {"name": "one"},
         "mark": {"type": "text", "text": "13", "fontSize": 19, "align": "left", "baseline": "alphabetic", "dx": 20, "dy": 13, "font": "Liberation Serif", "color": "black"},
         "encoding": {"x": {"datum": 1096.7, "type": "quantitative"}, "y": {"datum": -4.23, "type": "quantitative"}}},
        {"data": {"name": "xt"}, "mark": {"type": "tick", "orient": "vertical", "clip": true},
         "encoding": {"x": {"field": "v", "type": "quantitative"}, "y": {"datum": -6, "type": "quantitative"}, "size": {"condition": {"test": "datum.major === 1", "value": 16}, "value": 10}}},
        {"data": {"name": "xt"}, "mark": {"type": "tick", "orient": "vertical", "clip": true},
         "encoding": {"x": {"field": "v", "type": "quantitative"}, "y": {"datum": 0, "type": "quantitative"}, "size": {"condition": {"test": "datum.major === 1", "value": 16}, "value": 10}}},
        {"data": {"name": "yt"}, "transform": [{"filter": "datum.wave === 'P13'"}], "mark": {"type": "tick", "orient": "horizontal", "clip": true},
         "encoding": {"y": {"field": "v", "type": "quantitative"}, "x": {"datum": 1080, "type": "quantitative"}, "size": {"condition": {"test": "datum.major === 1", "value": 16}, "value": 10}}},
        {"data": {"name": "yt"}, "transform": [{"filter": "datum.wave === 'P13'"}], "mark": {"type": "tick", "orient": "horizontal", "clip": true},
         "encoding": {"y": {"field": "v", "type": "quantitative"}, "x": {"datum": 1300, "type": "quantitative"}, "size": {"condition": {"test": "datum.major === 1", "value": 16}, "value": 10}}}
      ]
    },
    {
      "width": 289, "height": 132,
      "layer": [
        {"data": {"name": "line"}, "transform": [{"filter": "datum.wave === 'P33'"}],
         "mark": {"type": "line", "color": "#0000ff", "strokeWidth": 2.5, "interpolate": "monotone", "clip": true},
         "encoding": {
           "x": {"field": "s", "type": "quantitative", "scale": {"domain": [1080, 1300], "nice": false, "zero": false}, "axis": {"orient": "bottom", "values": [1100, 1150, 1200, 1250, 1300], "labelFlush": false, "labelOverlap": false, "labelPadding": 2, "labelExpr": "'' + datum.value", "title": "s¹ᐟ² [MeV]", "titleFontSize": 25, "titlePadding": 5}},
           "y": {"field": "delta", "type": "quantitative", "scale": {"domain": [0, 160], "nice": false, "zero": false}, "axis": {"orient": "left", "values": [0, 80, 160], "labelOverlap": false, "labelPadding": 4, "labelExpr": "'' + datum.value", "title": null}}
         }},
        {"data": {"name": "pts"}, "transform": [{"filter": "datum.wave === 'P33' && datum.kind === 'q'"}],
         "mark": {"type": "point", "shape": "square", "filled": false, "stroke": "black", "strokeWidth": 1, "size": 25, "opacity": 1},
         "encoding": {"x": {"field": "s", "type": "quantitative"}, "y": {"field": "delta", "type": "quantitative"}}},
        {"data": {"name": "pts"}, "transform": [{"filter": "datum.wave === 'P33' && datum.kind === 'c'"}],
         "mark": {"type": "point", "shape": "circle", "filled": true, "color": "black", "size": 45, "opacity": 1},
         "encoding": {"x": {"field": "s", "type": "quantitative"}, "y": {"field": "delta", "type": "quantitative"}}},
        {"data": {"name": "one"},
         "mark": {"type": "text", "text": "P", "fontSize": 31, "align": "left", "baseline": "alphabetic", "font": "Liberation Serif", "color": "black"},
         "encoding": {"x": {"datum": 1103, "type": "quantitative"}, "y": {"datum": 111.5, "type": "quantitative"}}},
        {"data": {"name": "one"},
         "mark": {"type": "text", "text": "33", "fontSize": 19, "align": "left", "baseline": "alphabetic", "dx": 20, "dy": 13, "font": "Liberation Serif", "color": "black"},
         "encoding": {"x": {"datum": 1103, "type": "quantitative"}, "y": {"datum": 111.5, "type": "quantitative"}}},
        {"data": {"name": "xt"}, "mark": {"type": "tick", "orient": "vertical", "clip": true},
         "encoding": {"x": {"field": "v", "type": "quantitative"}, "y": {"datum": 0, "type": "quantitative"}, "size": {"condition": {"test": "datum.major === 1", "value": 16}, "value": 10}}},
        {"data": {"name": "xt"}, "mark": {"type": "tick", "orient": "vertical", "clip": true},
         "encoding": {"x": {"field": "v", "type": "quantitative"}, "y": {"datum": 160, "type": "quantitative"}, "size": {"condition": {"test": "datum.major === 1", "value": 16}, "value": 10}}},
        {"data": {"name": "yt"}, "transform": [{"filter": "datum.wave === 'P33'"}], "mark": {"type": "tick", "orient": "horizontal", "clip": true},
         "encoding": {"y": {"field": "v", "type": "quantitative"}, "x": {"datum": 1080, "type": "quantitative"}, "size": {"condition": {"test": "datum.major === 1", "value": 16}, "value": 10}}},
        {"data": {"name": "yt"}, "transform": [{"filter": "datum.wave === 'P33'"}], "mark": {"type": "tick", "orient": "horizontal", "clip": true},
         "encoding": {"y": {"field": "v", "type": "quantitative"}, "x": {"datum": 1300, "type": "quantitative"}, "size": {"condition": {"test": "datum.major === 1", "value": 16}, "value": 10}}}
      ]
    }
  ]
}
